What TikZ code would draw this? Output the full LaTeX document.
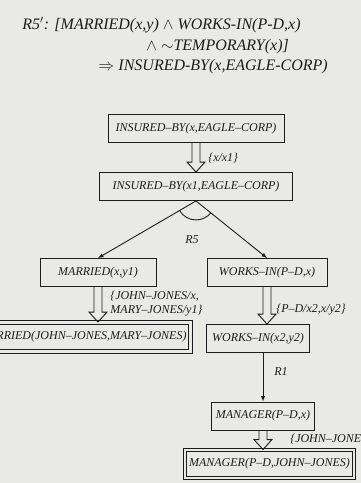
\documentclass[tikz,border=0pt]{standalone}
\usepackage{fix-cm}
\usepackage{fontspec}
\setmainfont{Liberation Serif}
\usetikzlibrary{calc}

\definecolor{paper}{HTML}{E9E9E6}
\definecolor{ink}{HTML}{1C1C1C}

\newcommand{\boxfont}{\itshape\fontsize{12}{14}\selectfont}
\newcommand{\rulefont}{\itshape\fontsize{16}{18}\selectfont}

\tikzset{
  fact/.style={draw=ink, rectangle, line width=0.9pt, inner xsep=4pt, minimum height=28pt, font=\boxfont},
  goal/.style={fact, double=paper, double distance=2.4pt},
  bind/.style={anchor=west, font=\boxfont, inner sep=0pt, align=left},
  % hohler Doppelpfeil fuer Substitutionen
  subst/.style={to path={let \p1=(\tikztostart), \p2=(\tikztotarget) in
      (\x1-4pt,\y1) -- (\x1-4pt,\y2+10pt) -- (\x1-9pt,\y2+10pt) -- (\x1,\y2)
      -- (\x1+9pt,\y2+10pt) -- (\x1+4pt,\y2+10pt) -- (\x1+4pt,\y1)}}
}

\begin{document}
\begin{tikzpicture}[x=1pt, y=-1pt, >=latex, line width=0.9pt, color=ink]
\fill[paper] (0,0) rectangle (361,483);
\useasboundingbox (0,0) rectangle (361,483);
\clip (0,0) rectangle (361,483);

% Regel R5'
\node[anchor=base west, font=\rulefont, inner sep=0pt] (rule1) at (22,29) {R5$'$: [MARRIED(x,y) $\wedge$ WORKS-IN(P-D,x)};
\node[anchor=base west, font=\rulefont, inner sep=0pt] (rule2) at (146,50) {$\wedge$ $\sim$TEMPORARY(x)]};
\node[anchor=base west, font=\rulefont, inner sep=0pt] (rule3) at (98,70) {$\Rightarrow$ INSURED-BY(x,EAGLE-CORP)};

% Ziel und Teilziele
\node[fact, minimum width=176pt] (ins1) at (196,128.5) {INSURED--BY(x,EAGLE--CORP)};
\node[fact, minimum width=193pt] (ins2) at (196,186.5) {INSURED--BY(x1,EAGLE--CORP)};
\node[fact, minimum width=116pt] (mar1) at (98,272.5) {MARRIED(x,y1)};
\node[fact, minimum width=120pt] (wrk1) at (267,272.5) {WORKS--IN(P--D,x)};
\node[goal, anchor=east, minimum height=29pt] (mar2) at (191,337) {MARRIED(JOHN--JONES,MARY--JONES)};
\node[fact, minimum width=103pt] (wrk2) at (258,338.5) {WORKS--IN(x2,y2)};
\node[fact, minimum width=100pt] (mgr1) at (263,416) {MANAGER(P--D,x)};
\node[goal, minimum width=159pt] (mgr2) at (269.5,464) {MANAGER(P--D,JOHN--JONES)};

% Verbindungen
\draw (ins1.south) to[subst] (ins2.north);
\draw[->] (ins2.south) -- (mar1.north);
\draw[->] (ins2.south) -- (wrk1.north);
\draw (mar1.south) to[subst] (mar2.north);
\draw (wrk1.south) to[subst] (wrk2.north);
\draw[->] (mgr1.north |- wrk2.south) -- (mgr1.north);
\draw (mgr1.south) to[subst] (mgr2.north);

% UND-Bogen
\draw let \p1=($(mar1.north)-(ins2.south)$), \p2=($(wrk1.north)-(ins2.south)$),
      \n1={atan2(\y1,\x1)}, \n2={atan2(\y2,\x2)} in
  ([shift={(\n1:19pt)}]ins2.south) arc[start angle=\n1, end angle=\n2, radius=19pt];

% Beschriftungen
\node[font=\boxfont] (r5) at (192,240) {R5};
\node[font=\boxfont] (r1) at (281,372) {R1};
\node[bind] (b1) at (208,158) {\{x/x1\}};
\node[bind] (b2) at (110,304) {\{JOHN--JONES/x,\\MARY--JONES/y1\}};
\node[bind] (b3) at (276,310) {\{P--D/x2,x/y2\}};
\node[bind] (b4) at (290,439) {\{JOHN--JONES/x\}};
\end{tikzpicture}
\end{document}
